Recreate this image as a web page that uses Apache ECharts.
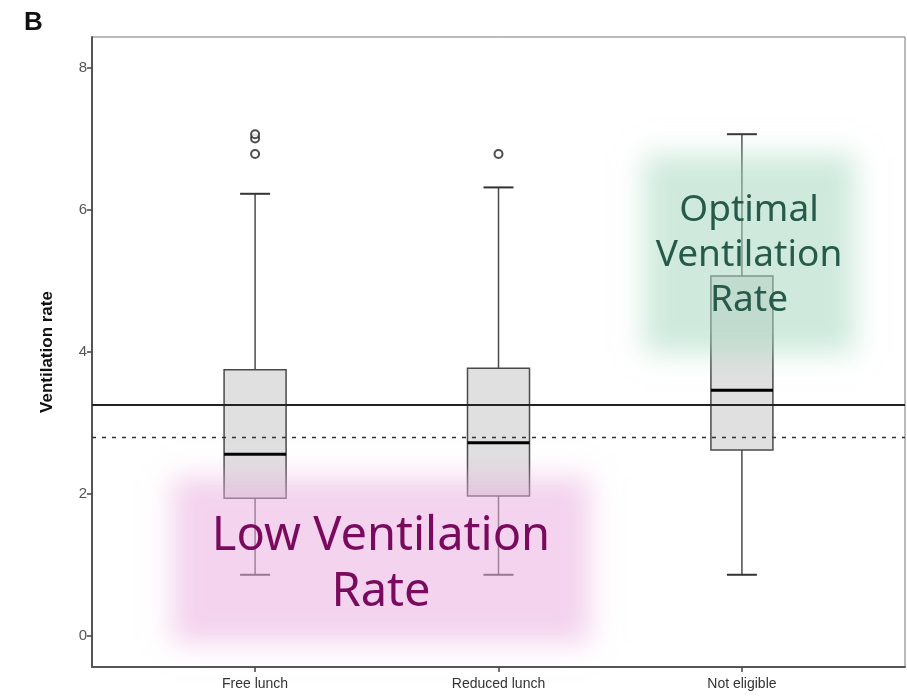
<!DOCTYPE html>
<html>
<head>
<meta charset="utf-8">
<script src="https://cdn.jsdelivr.net/npm/echarts@6/dist/echarts.min.js"></script>
<style>
  html, body { margin: 0; padding: 0; background: #fff; }
  #main { width: 907px; height: 697px; }
</style>
</head>
<body>
<div id="main"></div>
<script>
// groups on the x axis (positions 1, 2, 3)
const categories = ['Free lunch', 'Reduced lunch', 'Not eligible'];
const whiskerLow = [0.86, 0.86, 0.86];
const q1 = [1.94, 1.97, 2.62];
const median = [2.56, 2.72, 3.46];
const q3 = [3.75, 3.77, 5.07];
const whiskerHigh = [6.23, 6.32, 7.07];
// outliers: [group position, value]
const outliers = [[1, 6.79], [1, 7.01], [1, 7.07], [2, 6.79]];
const yTicks = [0, 2, 4, 6, 8];
const refSolid = 3.25;
const refDashed = 2.80;

const boxData = categories.map((c, i) => [i + 1, whiskerLow[i], q1[i], median[i], q3[i], whiskerHigh[i]]);

function renderBox(params, api) {
  const x = api.value(0);
  const lo = api.coord([x, api.value(1)]);
  const b1 = api.coord([x, api.value(2)]);
  const md = api.coord([x, api.value(3)]);
  const b3 = api.coord([x, api.value(4)]);
  const hi = api.coord([x, api.value(5)]);
  const cx = lo[0];
  const bw = 62, cw = 30;
  const line = { stroke: '#4a4a4a', lineWidth: 1.5 };
  return {
    type: 'group',
    children: [
      { type: 'line', shape: { x1: cx, y1: hi[1], x2: cx, y2: b3[1] }, style: line },
      { type: 'line', shape: { x1: cx, y1: b1[1], x2: cx, y2: lo[1] }, style: line },
      { type: 'line', shape: { x1: cx - cw / 2, y1: hi[1], x2: cx + cw / 2, y2: hi[1] }, style: { stroke: '#333', lineWidth: 2 } },
      { type: 'line', shape: { x1: cx - cw / 2, y1: lo[1], x2: cx + cw / 2, y2: lo[1] }, style: { stroke: '#333', lineWidth: 2 } },
      { type: 'rect', shape: { x: cx - bw / 2, y: b3[1], width: bw, height: b1[1] - b3[1] },
        style: { fill: '#e0e0e0', stroke: '#4a4a4a', lineWidth: 1.5 } },
      { type: 'line', shape: { x1: cx - bw / 2, y1: md[1], x2: cx + bw / 2, y2: md[1] }, style: { stroke: '#000', lineWidth: 3 } }
    ]
  };
}

// soft-edged highlight: only the blurred shadow of an off-screen rect is seen
function softBox(x, y, w, h, color) {
  return {
    type: 'rect', z: 100, silent: true,
    shape: { x: x - 2000, y: y, width: w, height: h },
    style: { fill: '#000', shadowBlur: 26, shadowColor: color, shadowOffsetX: 2000, shadowOffsetY: 0 }
  };
}

const chart = echarts.init(document.getElementById('main'), null, { renderer: 'canvas' });

chart.setOption({
  animation: false,
  backgroundColor: '#fff',
  grid: {
    left: 92, top: 37, right: 2, bottom: 30,
    outerBoundsMode: 'none',
    show: true, borderColor: '#777', borderWidth: 1
  },
  xAxis: {
    type: 'value',
    min: 0.33, max: 3.67,
    splitLine: { show: false },
    axisLine: { show: true, onZero: false, lineStyle: { color: '#555', width: 2 } },
    axisTick: { show: true, customValues: [1, 2, 3], length: 5, lineStyle: { color: '#444', width: 1.5 } },
    axisLabel: {
      customValues: [1, 2, 3],
      formatter: v => categories[Math.round(v) - 1] || '',
      color: '#333', fontSize: 14, fontFamily: 'Liberation Sans', margin: 10
    }
  },
  yAxis: {
    type: 'value',
    min: -0.44, max: 8.44,
    name: 'Ventilation rate',
    nameLocation: 'middle',
    nameGap: 36,
    nameTextStyle: { fontFamily: 'Liberation Sans', fontWeight: 'bold', fontSize: 17, color: '#111' },
    splitLine: { show: false },
    axisLine: { show: true, onZero: false, lineStyle: { color: '#555', width: 2 } },
    axisTick: { show: true, customValues: yTicks, length: 5, lineStyle: { color: '#444', width: 1.5 } },
    axisLabel: { customValues: yTicks, color: '#555', fontSize: 15, fontFamily: 'Liberation Sans', margin: 5 }
  },
  series: [
    {
      type: 'custom',
      renderItem: renderBox,
      data: boxData,
      encode: { x: 0, y: [1, 2, 3, 4, 5] },
      z: 3
    },
    {
      type: 'scatter',
      data: outliers,
      symbol: 'circle',
      symbolSize: 8,
      itemStyle: { color: '#fff', borderColor: '#222', borderWidth: 2 },
      z: 4,
      markLine: {
        silent: true,
        symbol: 'none',
        label: { show: false },
        data: [
          { yAxis: refSolid, lineStyle: { color: '#222', width: 1.8, type: 'solid' } },
          { yAxis: refDashed, lineStyle: { color: '#333', width: 1.3, type: [4, 6] } }
        ]
      }
    }
  ],
  graphic: [
    { type: 'text', left: 24, top: 10, z: 100,
      style: { text: 'B', font: 'bold 26px "Liberation Sans"', fill: '#111' } },
    softBox(172, 477, 418, 166, 'rgba(233,175,224,0.55)'),
    softBox(644, 155, 211, 198, 'rgba(168,217,191,0.55)'),
    { type: 'text', z: 101, x: 381, y: 565,
      style: { text: 'Low Ventilation\nRate', font: '47px "Noto Sans"', fill: '#7a0a5e',
        textAlign: 'center', textVerticalAlign: 'middle', lineHeight: 56 } },
    { type: 'text', z: 101, x: 749, y: 255,
      style: { text: 'Optimal\nVentilation\nRate', font: '37px "Noto Sans"', fill: '#265a4a',
        textAlign: 'center', textVerticalAlign: 'middle', lineHeight: 45 } }
  ]
});
</script>
</body>
</html>
